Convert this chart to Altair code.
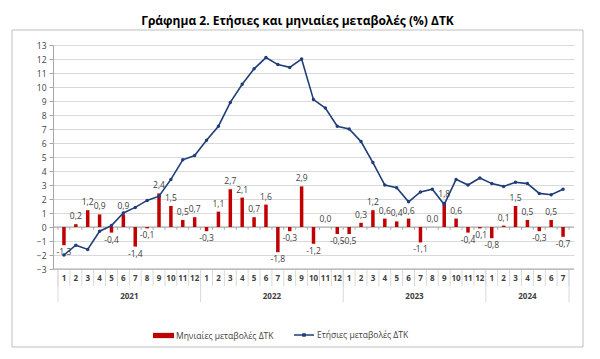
import altair as alt
import pandas as pd

title_text = "Γράφημα 2. Ετήσιες και μηνιαίες μεταβολές (%) ΔΤΚ"
series_names = ["Μηνιαίες μεταβολές ΔΤΚ", "Ετήσιες μεταβολές ΔΤΚ"]

years = ["2021"] * 12 + ["2022"] * 12 + ["2023"] * 12 + ["2024"] * 7
months = list(range(1, 13)) * 3 + list(range(1, 8))

monthly = [
    -1.3, 0.2, 1.2, 0.9, -0.4, 0.9, -1.4, -0.1, 2.4, 1.5, 0.5, 0.7,
    -0.3, 1.1, 2.7, 2.1, 0.7, 1.6, -1.8, -0.3, 2.9, -1.2, 0.0, -0.5,
    -0.5, 0.3, 1.2, 0.6, 0.4, 0.6, -1.1, 0.0, 1.8, 0.6, -0.4, -0.1,
    -0.8, 0.1, 1.5, 0.5, -0.3, 0.5, -0.7,
]
annual = [
    -2.0, -1.3, -1.6, -0.3, 0.1, 1.0, 1.4, 1.9, 2.2, 3.4, 4.8, 5.1,
    6.2, 7.2, 8.9, 10.2, 11.3, 12.1, 11.6, 11.4, 12.0, 9.1, 8.5, 7.2,
    7.0, 6.1, 4.6, 3.0, 2.8, 1.8, 2.5, 2.7, 1.6, 3.4, 3.0, 3.5,
    3.1, 2.9, 3.2, 3.1, 2.4, 2.3, 2.7,
]
y_ticks = list(range(-3, 14))

RED = "#C00000"
NAVY = "#1F3E79"
GRID = "#D9D9D9"
AXIS = "#A6A6A6"
TXT = "#404040"
FONT = "Open Sans"

df = pd.DataFrame({"year": years, "month": months, "monthly": monthly, "annual": annual})
df["idx"] = range(len(df))
df["label"] = df["monthly"].map(lambda v: f"{v:.1f}".replace(".", ","))
df["s_bar"] = series_names[0]
df["s_line"] = series_names[1]

year_df = df.groupby("year").agg(center=("idx", "mean"), first=("idx", "min")).reset_index()

month_bounds = pd.DataFrame({"b": [i - 0.5 for i in range(len(df) + 1)]})
month_bounds["z0"] = 0.0
month_bounds["z1"] = -0.2
year_bounds = pd.DataFrame({"b": list(year_df["first"] - 0.5) + [len(df) - 0.5]})

W, H = 521, 224
xscale = alt.Scale(domain=[-0.5, len(df) - 0.5], nice=False, zero=False)
yscale = alt.Scale(domain=[-3, 13], nice=False, zero=False)
YAXIS = alt.Axis(
    values=y_ticks, grid=True, gridColor=GRID, domainColor=AXIS, tickColor=AXIS,
    tickSize=4, labelFont=FONT, labelFontSize=8.5, labelColor=TXT, labelPadding=3,
    title=None,
)


def xq(field):
    return alt.X(field, scale=xscale, axis=None, title=None)


def yq(field):
    return alt.Y(field, scale=yscale, axis=YAXIS, title=None)


base = alt.Chart(df)

frame = alt.Chart(pd.DataFrame({"a": [0]})).mark_rect(
    fill="white", fillOpacity=0, stroke="#BFBFBF", strokeWidth=1
).encode(x=alt.value(-41), x2=alt.value(530), y=alt.value(-15), y2=alt.value(302))

zero_line = alt.Chart(pd.DataFrame({"z": [0]})).mark_rule(color=AXIS, strokeWidth=1).encode(
    y=yq("z:Q")
)
zero_ticks = alt.Chart(month_bounds).mark_rule(color=AXIS).encode(
    x=xq("b:Q"), y=yq("z0:Q"), y2="z1:Q"
)

bars = base.mark_bar(size=3.5).encode(
    x=xq("idx:Q"),
    y=yq("monthly:Q"),
    color=alt.Color(
        "s_bar:N",
        scale=alt.Scale(domain=[series_names[0]], range=[RED]),
        legend=alt.Legend(
            title=None, orient="none", legendX=100, legendY=280,
            symbolType="M-1,-0.25H1V0.25H-1Z", symbolSize=441, symbolStrokeWidth=0,
            labelFont=FONT, labelFontSize=8.5, labelColor=TXT, labelOffset=2,
        ),
    ),
)

line = base.mark_line(strokeWidth=1.6).encode(
    x=xq("idx:Q"),
    y=yq("annual:Q"),
    stroke=alt.Stroke(
        "s_line:N",
        scale=alt.Scale(domain=[series_names[1]], range=[NAVY]),
        legend=alt.Legend(
            title=None, orient="none", legendX=241, legendY=280,
            symbolType="M-1,-0.07H1V0.07H-1Z M-0.18,-0.18H0.18V0.18H-0.18Z",
            symbolSize=400, symbolStrokeWidth=0, symbolFillColor=NAVY,
            labelFont=FONT, labelFontSize=8.5, labelColor=TXT, labelOffset=3,
        ),
    ),
)
points = base.mark_circle(size=12, color=NAVY, opacity=1).encode(
    x=xq("idx:Q"), y=yq("annual:Q")
)

lab_pos = base.transform_filter("datum.monthly >= 0").mark_text(
    baseline="bottom", dy=-3, font=FONT, fontSize=8.5, color=TXT
).encode(x=xq("idx:Q"), y=yq("monthly:Q"), text="label:N")
lab_neg = base.transform_filter("datum.monthly < 0").mark_text(
    baseline="top", dy=3, font=FONT, fontSize=8.5, color=TXT
).encode(x=xq("idx:Q"), y=yq("monthly:Q"), text="label:N")

month_sep = alt.Chart(month_bounds).mark_rule(color=GRID).encode(
    x=xq("b:Q"), y=alt.value(H), y2=alt.value(H + 17)
)
year_sep = alt.Chart(year_bounds).mark_rule(color=GRID).encode(
    x=xq("b:Q"), y=alt.value(H), y2=alt.value(H + 33)
)
bottom_line = alt.Chart(pd.DataFrame({"z": [-3]})).mark_rule(color=AXIS).encode(
    y=yq("z:Q")
)
month_text = base.mark_text(
    font=FONT, fontSize=8, fontWeight="bold", color=TXT, baseline="middle"
).encode(x=xq("idx:Q"), y=alt.value(H + 10), text="month:N")
year_text = alt.Chart(year_df).mark_text(
    font=FONT, fontSize=8, fontWeight="bold", color=TXT, baseline="middle"
).encode(x=xq("center:Q"), y=alt.value(H + 28), text="year:N")

chart = alt.layer(
    frame, zero_line, zero_ticks, bars, line, points, lab_pos, lab_neg,
    month_sep, year_sep, bottom_line, month_text, year_text,
).properties(
    width=W,
    height=H,
    title=alt.TitleParams(
        title_text, font=FONT, fontSize=12, fontWeight="bold", color="#000000",
        anchor="middle", dx=-16, offset=2,
    ),
    autosize=alt.AutoSizeParams(type="none"),
    padding={"left": 45, "top": 37, "right": 18, "bottom": 82},
).configure_view(stroke=None)

chart.save("out.html", embed_options={"renderer": "svg", "actions": False})
